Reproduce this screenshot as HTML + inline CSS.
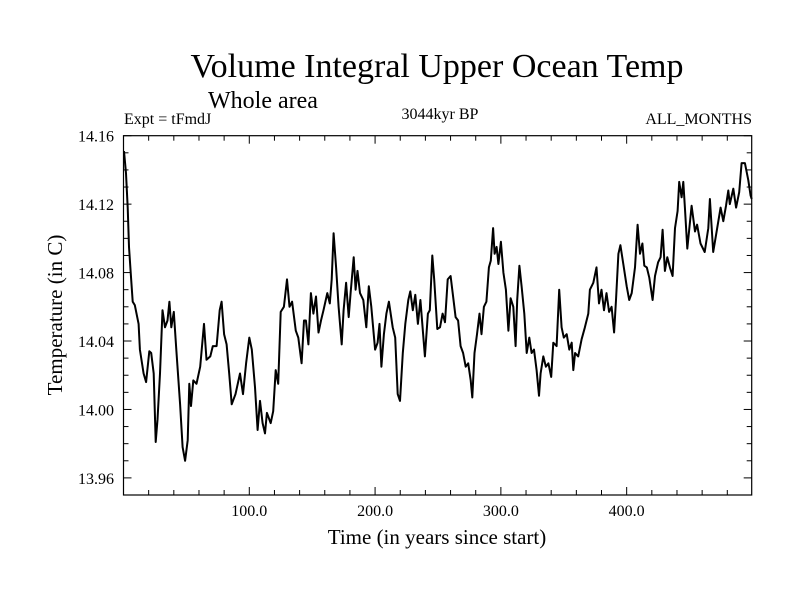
<!DOCTYPE html>
<html><head><meta charset="utf-8"><style>
body{margin:0;background:#fff;}
svg{display:block;font-family:"Liberation Serif",serif;}
</style></head><body>
<svg id="chart" width="800" height="600" viewBox="0 0 800 600">
<text x="437" y="77" font-size="34" text-anchor="middle">Volume Integral Upper Ocean Temp</text>
<text x="208" y="108" font-size="24">Whole area</text>
<text x="124" y="124" font-size="16">Expt = tFmdJ</text>
<text x="440" y="119" font-size="16" text-anchor="middle">3044kyr BP</text>
<text x="752" y="124" font-size="16" text-anchor="end">ALL_MONTHS</text>
<text x="437" y="544" font-size="21" text-anchor="middle">Time (in years since start)</text>
<text transform="translate(62,315) rotate(-90)" font-size="21" text-anchor="middle">Temperature (in C)</text>
<g id="axes"></g>
<path id="series" fill="none" stroke="#000" stroke-width="2" stroke-linejoin="round"/>
<rect x="123.5" y="135.7" width="628.2" height="359.3" fill="none" stroke="#000" stroke-width="1.2"/>
</svg>
<script>
const years=[0.4,2,3.3,4.4,5.7,7.3,9,12,13,16,18,20.5,22,24,25.6,27,29,31,33,35,36.5,38,40,42,45,47,49,51,52.3,53.7,55.5,58,61,64,66,69,71,74,76.5,78,80,82,84,86,89,92.6,95,97.5,100,102,104.5,106.6,108.5,110.6,112.5,114,117,119,121,123,125,127.5,130,132,134,137,139,141.6,143.5,145,147,149,151,153,155,157,159,162,164,165.5,167,169,171,173.5,175,177,179,180.5,183,184.5,186,188,190.6,193,195,197,200,202,203.5,205,207,209,211,214,216,218,219.8,222,224,226.4,228,230,232,234,236,239.6,242,243.5,245.5,247,249.5,251.6,253.7,255.6,257.7,260,262,264,266,268,270,272,274,276,277.3,279,281,283,284.6,286.5,288.5,290.5,292,293.8,295,296.6,298,300,302,304,306,307.7,309.9,311.7,313,314.7,316.5,318.6,320.5,322.6,324.4,326.3,328.4,330.3,331.6,333.7,335.8,337.8,340,341.7,344.3,346.4,348.3,350,352.3,354.4,356.3,357.6,359,361.5,364.2,366.8,369.5,370.8,373.5,376,378,380,382,384,386,388,390,391.5,393.4,395,397.3,400,402,404,406.6,408.7,410.6,412.5,414,416,418,420.6,422.5,425,427,428.6,430.4,432.3,434.4,436.5,438.4,440.5,441.8,443.7,445,446.3,448.2,451.6,454.3,456,458.7,462,464.9,466.2,468.8,472,474.7,476.8,479,480.8,482,484.8,487,489.5,491.4,494,496.7,498.5,500];
const temps=[14.151,14.138,14.118,14.095,14.080,14.063,14.061,14.050,14.035,14.021,14.016,14.034,14.033,14.021,13.981,13.994,14.021,14.058,14.048,14.052,14.063,14.048,14.057,14.035,14.003,13.978,13.970,13.982,14.015,14.002,14.017,14.015,14.025,14.050,14.029,14.031,14.037,14.037,14.058,14.063,14.044,14.038,14.021,14.003,14.009,14.021,14.009,14.027,14.042,14.035,14.013,13.988,14.005,13.992,13.986,13.998,13.992,13.999,14.023,14.015,14.057,14.060,14.076,14.060,14.063,14.046,14.042,14.027,14.052,14.052,14.038,14.068,14.056,14.066,14.045,14.052,14.058,14.068,14.062,14.076,14.103,14.083,14.060,14.038,14.058,14.074,14.054,14.068,14.089,14.070,14.081,14.068,14.064,14.048,14.072,14.060,14.035,14.039,14.050,14.025,14.044,14.056,14.063,14.048,14.042,14.009,14.005,14.033,14.050,14.064,14.069,14.058,14.067,14.050,14.064,14.031,14.056,14.058,14.090,14.076,14.047,14.048,14.056,14.051,14.076,14.078,14.066,14.054,14.052,14.037,14.033,14.025,14.027,14.017,14.007,14.033,14.044,14.056,14.044,14.060,14.063,14.083,14.087,14.106,14.091,14.095,14.085,14.098,14.080,14.070,14.046,14.065,14.060,14.037,14.064,14.084,14.072,14.056,14.033,14.042,14.033,14.035,14.023,14.008,14.021,14.031,14.025,14.027,14.019,14.039,14.037,14.070,14.048,14.042,14.044,14.035,14.039,14.023,14.033,14.031,14.041,14.048,14.056,14.070,14.074,14.083,14.062,14.070,14.058,14.068,14.057,14.060,14.045,14.064,14.091,14.096,14.085,14.072,14.064,14.068,14.083,14.108,14.091,14.097,14.084,14.083,14.077,14.064,14.078,14.086,14.089,14.105,14.081,14.089,14.083,14.078,14.106,14.116,14.133,14.124,14.133,14.118,14.094,14.119,14.104,14.108,14.097,14.092,14.106,14.123,14.092,14.106,14.118,14.110,14.119,14.128,14.120,14.129,14.118,14.127,14.144,14.144,14.134,14.125,14.123];
const xTickLabels=["100.0","200.0","300.0","400.0"];
const xTickValues=[100,200,300,400];
const yTickLabels=["13.96","14.00","14.04","14.08","14.12","14.16"];
const yTickValues=[13.96,14.00,14.04,14.08,14.12,14.16];

const X0=123.5,X1=751.7,Y0=135.7,Y1=495;
const xMin=0,xMax=499.4,yMin=13.95,yMax=14.16;
function sx(v){return X0+(v-xMin)/(xMax-xMin)*(X1-X0);}
function sy(v){return Y1-(v-yMin)/(yMax-yMin)*(Y1-Y0);}
const NS="http://www.w3.org/2000/svg";
const axes=document.getElementById('axes');
function line(x1,y1,x2,y2,name){const l=document.createElementNS(NS,'line');l.setAttribute('x1',x1);l.setAttribute('y1',y1);l.setAttribute('x2',x2);l.setAttribute('y2',y2);l.setAttribute('stroke','#000');l.setAttribute('stroke-width','1');


axes.appendChild(l);}
for(let v=20;v<xMax;v+=20){const x=sx(v);const major=v%100===0;const L=major?8:5;line(x,Y1,x,Y1-L,'x-tick');line(x,Y0,x,Y0+L,'x-tick-top');}
for(let i=0;i<=21;i++){const v=yMin+i*0.01;const y=sy(v);const major=(i%4===1);const L=major?8:5;line(X0,y,X0+L,y,'y-tick');line(X1,y,X1-L,y,'y-tick-right');}
xTickLabels.forEach((t,i)=>{const e=document.createElementNS(NS,'text');e.setAttribute('x',sx(xTickValues[i]));e.setAttribute('y',516);e.setAttribute('font-size','16');e.setAttribute('text-anchor','middle');e.textContent=t;


axes.appendChild(e);});
yTickLabels.forEach((t,i)=>{const e=document.createElementNS(NS,'text');e.setAttribute('x',114);e.setAttribute('y',sy(yTickValues[i])+6);e.setAttribute('font-size','16');e.setAttribute('text-anchor','end');e.textContent=t;


axes.appendChild(e);});
document.getElementById('series').setAttribute('d',years.map((y,i)=>(i?'L':'M')+sx(Math.min(y,xMax)).toFixed(1)+','+sy(temps[i]).toFixed(1)).join(''));
</script>
</body></html>
